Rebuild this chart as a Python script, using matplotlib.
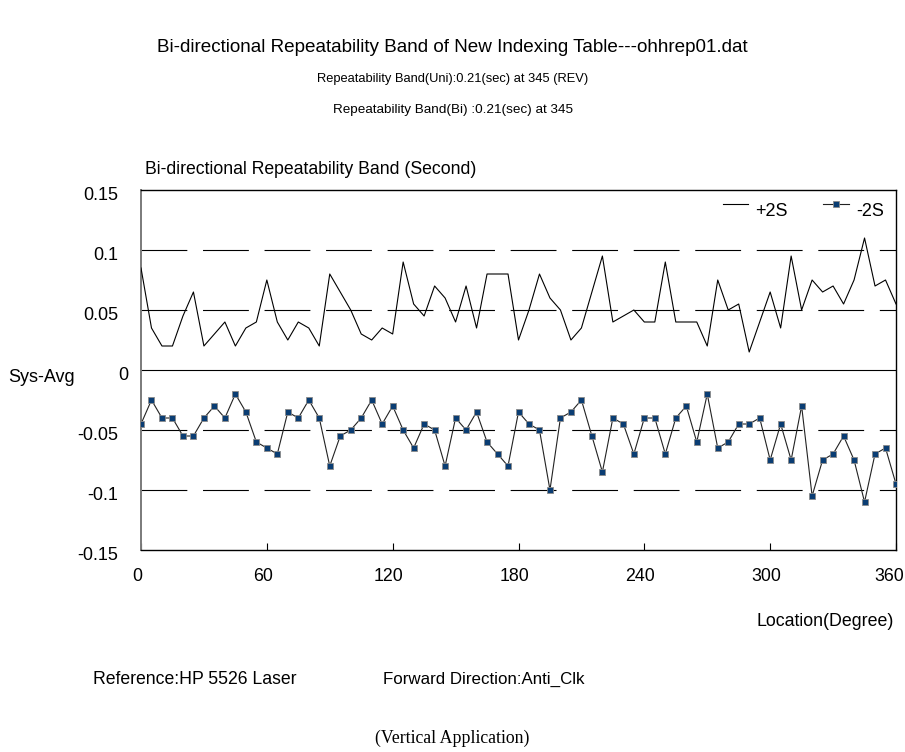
import numpy as np
import matplotlib
matplotlib.use("Agg")
import matplotlib.pyplot as plt
import matplotlib.transforms as mtransforms
from matplotlib.lines import Line2D

plt.rcParams['font.family'] = ['Liberation Sans', 'DejaVu Sans']
plt.rcParams['lines.scale_dashes'] = False

locations = list(range(0, 361, 5))
plus_2s = [0.085, 0.035, 0.02, 0.02, 0.045, 0.065, 0.02, 0.03, 0.04, 0.02,
           0.035, 0.04, 0.075, 0.04, 0.025, 0.04, 0.035, 0.02, 0.08, 0.065,
           0.05, 0.03, 0.025, 0.035, 0.03, 0.09, 0.055, 0.045, 0.07, 0.06,
           0.04, 0.07, 0.035, 0.08, 0.08, 0.08, 0.025, 0.05, 0.08, 0.06,
           0.05, 0.025, 0.035, 0.065, 0.095, 0.04, 0.045, 0.05, 0.04, 0.04,
           0.09, 0.04, 0.04, 0.04, 0.02, 0.075, 0.05, 0.055, 0.015, 0.04,
           0.065, 0.035, 0.095, 0.05, 0.075, 0.065, 0.07, 0.055, 0.075, 0.11,
           0.07, 0.075, 0.055]
minus_2s = [-0.045, -0.025, -0.04, -0.04, -0.055, -0.055, -0.04, -0.03, -0.04, -0.02,
            -0.035, -0.06, -0.065, -0.07, -0.035, -0.04, -0.025, -0.04, -0.08, -0.055,
            -0.05, -0.04, -0.025, -0.045, -0.03, -0.05, -0.065, -0.045, -0.05, -0.08,
            -0.04, -0.05, -0.035, -0.06, -0.07, -0.08, -0.035, -0.045, -0.05, -0.1,
            -0.04, -0.035, -0.025, -0.055, -0.085, -0.04, -0.045, -0.07, -0.04, -0.04,
            -0.07, -0.04, -0.03, -0.06, -0.02, -0.065, -0.06, -0.045, -0.045, -0.04,
            -0.075, -0.045, -0.075, -0.03, -0.105, -0.075, -0.07, -0.055, -0.075, -0.11,
            -0.07, -0.065, -0.095]
y_ticks = [0.15, 0.1, 0.05, 0, -0.05, -0.1, -0.15]
y_tick_labels = ['0.15', '0.1', '0.05', '0', '-0.05', '-0.1', '-0.15']
x_ticks = [0, 60, 120, 180, 240, 300, 360]

W, H = 905, 752
fig = plt.figure(figsize=(W / 100, H / 100), dpi=100)
ax = fig.add_axes([141 / W, 1 - 550 / H, (896 - 141) / W, (550 - 190) / H])

# grid lines
for yv in [0.1, 0.05, -0.05, -0.1]:
    ax.axhline(yv, color='black', lw=0.8, dashes=(33, 11.3), zorder=1)
ax.axhline(0, color='black', lw=0.8, zorder=1)

line_kw = dict(color='black', lw=0.8)
mark_kw = dict(color='#222222', lw=0.8, marker='s', markersize=4.8,
               markerfacecolor='#0a3d73', markeredgecolor='#8a8a8a', markeredgewidth=0.6)
ax.plot(locations, plus_2s, zorder=3, **line_kw)
ax.plot(locations, minus_2s, zorder=3, **mark_kw)

ax.set_xlim(0, 360)
ax.set_ylim(-0.15, 0.15)
ax.set_xticks(x_ticks)
ax.set_xticklabels([str(v) for v in x_ticks])
ax.set_yticks(y_ticks)
ax.set_yticklabels(y_tick_labels)
ax.tick_params(axis='x', direction='in', length=5, width=0.8, pad=13, labelsize=12.8)
ax.tick_params(axis='y', length=0, pad=16.5, labelsize=13)
for lab in ax.get_xticklabels():
    dx = -7 if lab.get_text() == '360' else -4
    lab.set_transform(lab.get_transform() +
                      mtransforms.ScaledTranslation(dx / 100, 0, fig.dpi_scale_trans))
for lab in ax.get_yticklabels():
    dx = 10 / 100 if lab.get_text() == '0' else 0
    lab.set_transform(lab.get_transform() +
                      mtransforms.ScaledTranslation(dx, -4 / 100, fig.dpi_scale_trans))
for s in ['top', 'right', 'bottom']:
    ax.spines[s].set_color('black')
    ax.spines[s].set_linewidth(1.0)
ax.spines['left'].set_color('#7a7a7a')
ax.spines['left'].set_linewidth(1.4)

def fx(x):
    return x / W

def fy(y):
    return 1 - y / H

# legend (manual placement)
fig.add_artist(Line2D([fx(723), fx(748)], [fy(204), fy(204)], **line_kw))
fig.text(fx(755), fy(212), '+2S', ha='left', va='center', fontsize=13)
fig.add_artist(Line2D([fx(823), fx(849)], [fy(204), fy(204)], color='#222222', lw=0.8))
fig.add_artist(Line2D([fx(836)], [fy(204)], linestyle='none', marker='s', markersize=4.8,
                      markerfacecolor='#0a3d73', markeredgecolor='#8a8a8a', markeredgewidth=0.6))
fig.text(fx(856), fy(212), '-2S', ha='left', va='center', fontsize=13)

fig.text(fx(452), fy(47), 'Bi-directional Repeatability Band of New Indexing Table---ohhrep01.dat',
         ha='center', va='center', fontsize=13.6)
fig.text(fx(453), fy(79), 'Repeatability Band(Uni):0.21(sec) at 345 (REV)',
         ha='center', va='center', fontsize=9.3)
fig.text(fx(453), fy(110), 'Repeatability Band(Bi) :0.21(sec) at 345',
         ha='center', va='center', fontsize=9.7)
fig.text(fx(145), fy(170), 'Bi-directional Repeatability Band (Second)',
         ha='left', va='center', fontsize=12.7)
fig.text(fx(8), fy(377), 'Sys-Avg', ha='left', va='center', fontsize=13)
fig.text(fx(894), fy(622), 'Location(Degree)', ha='right', va='center', fontsize=12.8)
fig.text(fx(93), fy(679), 'Reference:HP 5526 Laser', ha='left', va='center', fontsize=12.7)
fig.text(fx(383), fy(679), 'Forward Direction:Anti_Clk', ha='left', va='center', fontsize=12.2)
fig.text(fx(452), fy(738), '(Vertical Application)', ha='center', va='center', fontsize=12.8,
         family=['Liberation Serif', 'DejaVu Serif'])

fig.savefig('out.png', dpi=100)
